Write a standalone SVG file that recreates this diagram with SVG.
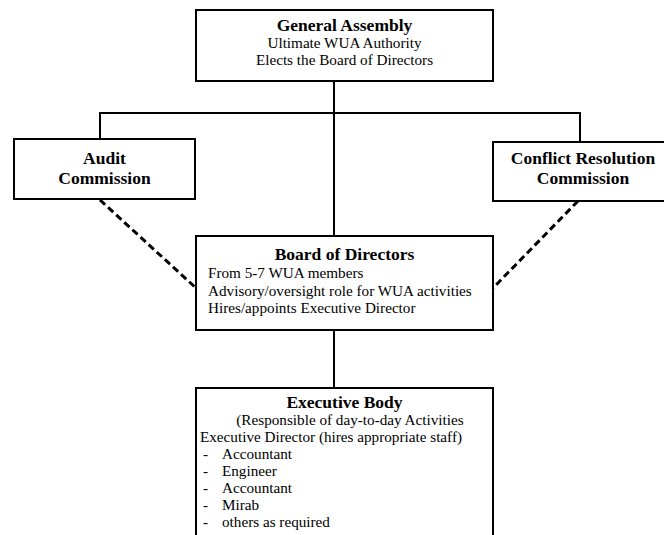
<svg xmlns="http://www.w3.org/2000/svg" width="664" height="535" viewBox="0 0 664 535">
<style>
.box{fill:#fff;stroke:#000;stroke-width:2}
.ln{fill:none;stroke:#000;stroke-width:2}
.dash{fill:none;stroke:#000;stroke-width:3;stroke-dasharray:7 4}
text{font-family:"Liberation Serif","Times New Roman",serif;fill:#000}
.t{font-size:17.5px;font-weight:bold;text-anchor:middle}
.r{font-size:15.2px}
.c{text-anchor:middle}
</style>
<rect width="664" height="535" fill="#fff"/>
<g id="connectors">
<line class="ln" x1="334" y1="81" x2="334" y2="236"/>
<polyline class="ln" points="100,139 100,113 580,113 580,142"/>
<line class="ln" x1="334" y1="330" x2="334" y2="388"/>
<line class="dash" x1="100" y1="200" x2="196" y2="288"/>
<line class="dash" x1="578" y1="201" x2="493" y2="288"/>
</g>
<g id="general-assembly">
<rect class="box" x="196" y="10" width="297" height="71"/>
<text class="t" x="344.5" y="31">General Assembly</text>
<text class="r c" x="344.5" y="48">Ultimate WUA Authority</text>
<text class="r c" x="344.5" y="65">Elects the Board of Directors</text>
</g>
<g id="audit-commission">
<rect class="box" x="14" y="139" width="181" height="60"/>
<text class="t" x="104.5" y="164">Audit</text>
<text class="t" x="104.5" y="184">Commission</text>
</g>
<g id="conflict-resolution-commission">
<rect class="box" x="493" y="142" width="180" height="59"/>
<text class="t" x="583" y="164">Conflict Resolution</text>
<text class="t" x="583" y="184">Commission</text>
</g>
<g id="board-of-directors">
<rect class="box" x="196" y="236" width="297" height="94"/>
<text class="t" x="344.5" y="260">Board of Directors</text>
<text class="r" x="208" y="278">From 5-7 WUA members</text>
<text class="r" x="208" y="296">Advisory/oversight role for WUA activities</text>
<text class="r" x="208" y="313">Hires/appoints Executive Director</text>
</g>
<g id="executive-body">
<rect class="box" x="196" y="388" width="297" height="160"/>
<text class="t" x="344.5" y="408">Executive Body</text>
<text class="r c" x="350" y="425">(Responsible of day-to-day Activities</text>
<text class="r" x="200" y="442">Executive Director (hires appropriate staff)</text>
<text class="r" x="203" y="459">-</text><text class="r" x="222" y="459">Accountant</text>
<text class="r" x="203" y="476">-</text><text class="r" x="222" y="476">Engineer</text>
<text class="r" x="203" y="493">-</text><text class="r" x="222" y="493">Accountant</text>
<text class="r" x="203" y="510">-</text><text class="r" x="222" y="510">Mirab</text>
<text class="r" x="203" y="527">-</text><text class="r" x="222" y="527">others as required</text>
</g>
</svg>
